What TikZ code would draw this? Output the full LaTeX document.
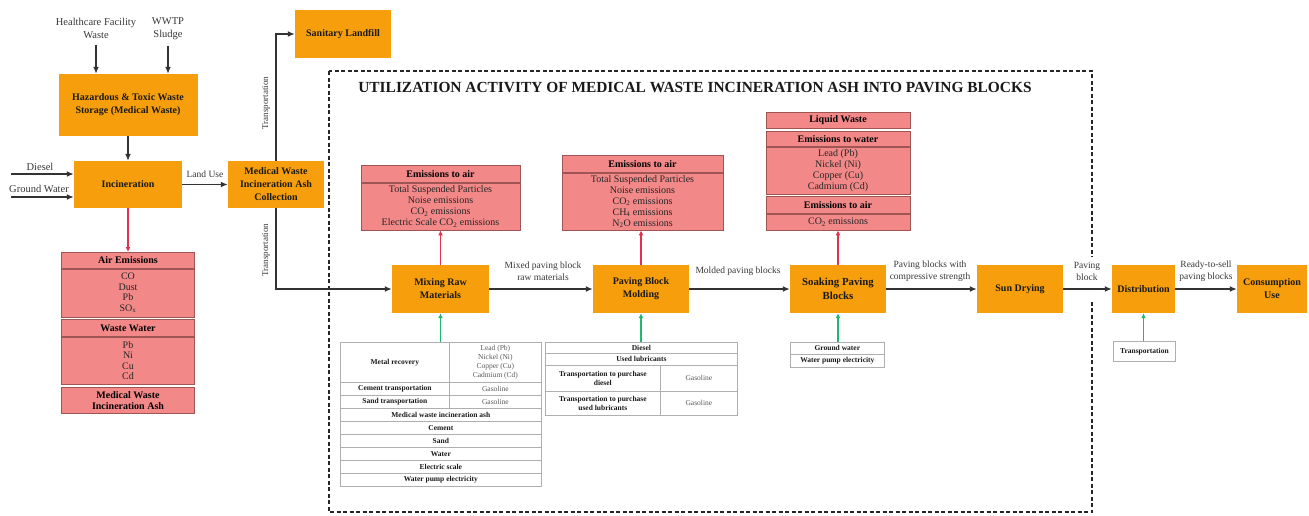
\documentclass[tikz,border=0pt]{standalone}
\usepackage{fontspec}
\setmainfont{Liberation Serif}
\usetikzlibrary{arrows.meta}
\definecolor{procor}{RGB}{246,158,12}
\definecolor{pinkc}{RGB}{242,136,136}
\definecolor{pinkb}{RGB}{160,85,85}
\definecolor{cellb}{RGB}{175,175,175}
\definecolor{greenarr}{RGB}{30,185,110}
\definecolor{redarr}{RGB}{225,50,75}
\definecolor{lblgray}{RGB}{55,55,55}
\newcommand\fsz[2]{\fontsize{#1}{#2}\selectfont}
\tikzset{
  proc/.style={fill=procor, inner sep=1pt, align=center, text=black!90, font=\bfseries\fsz{10}{13}},
  pk/.style={fill=pinkc, draw=pinkb, line width=0.7pt, inner sep=0pt, align=center, text=black!85, font=\fsz{10}{11}},
  pkh/.style={pk, font=\bfseries\fsz{10}{11}, text=black},
  cell/.style={draw=cellb, fill=white, line width=0.7pt, inner sep=0pt, align=center, text=black!90, font=\bfseries\fsz{7.5}{9}},
  cellr/.style={cell, font=\fsz{7.5}{9}, text=black!65},
  lbl/.style={font=\fsz{9.5}{12}, text=lblgray, align=center, inner sep=0pt},
  src/.style={font=\fsz{10.5}{13}, text=lblgray, align=center, inner sep=0pt},
  arr/.style={-{Latex[length=7pt,width=6pt]}, line width=1.6pt, draw=black!80},
  rarr/.style={-{Latex[length=5pt,width=5pt]}, line width=1.2pt, draw=redarr},
  garr/.style={-{Latex[length=5pt,width=5pt]}, line width=1.2pt, draw=greenarr},
  framebox/.style={draw=black!85, line width=1.1pt, dash pattern=on 4pt off 2.5pt}
}
\begin{document}
\begin{tikzpicture}[x=1pt,y=-1pt]
\useasboundingbox (0,0) rectangle (1309,515);

% ---------- left part ----------
\node[src] (hcw) at (96,28.5) {Healthcare Facility\\Waste};
\node[src] (wwtp) at (168,28.5) {WWTP\\Sludge};
\node[proc, minimum width=139, minimum height=62] (haz) at (128,105) {Hazardous \& Toxic Waste\\Storage (Medical Waste)};
\draw[arr] ([yshift=-6pt]hcw.south) -- (hcw.south |- haz.north);
\draw[arr] ([yshift=-6pt]wwtp.south) -- (wwtp.south |- haz.north);

\node[proc, minimum width=108, minimum height=47] (inc) at (128,184.5) {Incineration};
\draw[arr] (haz.south) -- (inc.north);

\node[src] (dsl) at (40,167) {Diesel};
\node[src] (gwl) at (39,189) {Ground Water};
\coordinate (dsin) at (11,174);
\coordinate (gwin) at (11,197);
\draw[arr] (dsin) -- (dsin -| inc.west);
\draw[arr] (gwin) -- (gwin -| inc.west);

\node[proc, minimum width=96, minimum height=47] (mwia) at (276,184.5) {Medical Waste\\Incineration Ash\\Collection};
\draw[arr] (inc.east) -- (mwia.west);
\node[lbl] (landuse) at (205,174) {Land Use};

\node[proc, minimum width=96, minimum height=48] (landfill) at (343,34) {Sanitary Landfill};
\draw[arr] (mwia.north) |- (landfill.west);
\node[lbl, rotate=90, font=\fsz{9}{10}] (tr1) at (266,103) {Transportation};

% air emission stack
\node[pkh, minimum width=133, minimum height=16, anchor=north] (aeh) at (128,252) {Air Emissions};
\node[pk, minimum width=133, minimum height=48, anchor=north, font=\fsz{10}{10.5}] (aeb) at (aeh.south) {CO\\Dust\\Pb\\SO\textsubscript{x}};
\draw[rarr] (inc.south) -- (aeh.north);
\node[pkh, minimum width=133, minimum height=17, anchor=north] (wwh) at (128,319) {Waste Water};
\node[pk, minimum width=133, minimum height=47, anchor=north, font=\fsz{10}{10.5}] (wwb) at (wwh.south) {Pb\\Ni\\Cu\\Cd};
\node[pkh, minimum width=133, minimum height=26, anchor=north, font=\bfseries\fsz{10}{10.5}] (ash) at (128,387) {Medical Waste\\Incineration Ash};

% ---------- dashed frame ----------
\draw[framebox] (329,71) rectangle (1092,512);
\node[font=\bfseries\fsz{15.4}{17}, text=black!90] (title) at (695,88) {UTILIZATION ACTIVITY OF MEDICAL WASTE INCINERATION ASH INTO PAVING BLOCKS};

% ---------- process row ----------
\node[proc, minimum width=97, minimum height=48] (mix) at (440.5,289) {Mixing Raw\\Materials};
\node[proc, minimum width=96, minimum height=48] (mold) at (641,289) {Paving Block\\Molding};
\node[proc, minimum width=96, minimum height=48, font=\bfseries\fsz{10.8}{14}] (soak) at (838,289) {Soaking Paving\\Blocks};
\node[proc, minimum width=86, minimum height=48] (sun) at (1020,289) {Sun Drying};
\node[proc, minimum width=63, minimum height=48] (dist) at (1143.5,289) {Distribution};
\node[proc, minimum width=70, minimum height=48] (cons) at (1272,289) {Consumption\\Use};

\draw[arr] (mwia.south) |- (mix.west);
\node[lbl, rotate=90, font=\fsz{9}{10}] (tr2) at (266,250) {Transportation};

\draw[arr] (mix.east) -- (mold.west);
\node[lbl] (l1) at (543,271) {Mixed paving block\\raw materials};
\draw[arr] (mold.east) -- (soak.west);
\node[lbl] (l2) at (738,271) {Molded paving blocks};
\draw[arr] (soak.east) -- (sun.west);
\node[lbl] (l3) at (930,271) {Paving blocks with\\compressive strength};
\fill[white] (1084,257) rectangle (1100,300);
\draw[arr] (sun.east) -- (dist.west);
\node[lbl] (l4) at (1087,271) {Paving\\block};
\draw[arr] (dist.east) -- (cons.west);
\node[lbl] (l5) at (1206,271) {Ready-to-sell\\paving blocks};

% ---------- emission boxes ----------
\node[pkh, minimum width=159, minimum height=17, anchor=north] (mixeh) at (440.5,165) {Emissions to air};
\node[pk, minimum width=159, minimum height=47, anchor=north] (mixeb) at (mixeh.south) {Total Suspended Particles\\Noise emissions\\CO\textsubscript{2} emissions\\Electric Scale CO\textsubscript{2} emissions};
\draw[rarr] (mix.north) -- (mix.north |- mixeb.south);

\node[pkh, minimum width=161, minimum height=17, anchor=north] (moldeh) at (642.5,155) {Emissions to air};
\node[pk, minimum width=161, minimum height=57, anchor=north] (moldeb) at (moldeh.south) {Total Suspended Particles\\Noise emissions\\CO\textsubscript{2} emissions\\CH\textsubscript{4} emissions\\N\textsubscript{2}O emissions};
\draw[rarr] (mold.north) -- (mold.north |- moldeb.south);

\node[pkh, minimum width=144, minimum height=16, anchor=north] (liq) at (838,112) {Liquid Waste};
\node[pkh, minimum width=144, minimum height=15, anchor=north] (soakwh) at (838,131) {Emissions to water};
\node[pk, minimum width=144, minimum height=47, anchor=north] (soakwb) at (soakwh.south) {Lead (Pb)\\Nickel (Ni)\\Copper (Cu)\\Cadmium (Cd)};
\node[pkh, minimum width=144, minimum height=17, anchor=north] (soakah) at (838,196) {Emissions to air};
\node[pk, minimum width=144, minimum height=16, anchor=north] (soakab) at (soakah.south) {CO\textsubscript{2} emissions};
\draw[rarr] (soak.north) -- (soak.north |- soakab.south);

% ---------- input tables ----------
% mixing
\node[cell, anchor=north west, minimum width=109, minimum height=40] (t1a) at (340,342) {Metal recovery};
\node[cellr, anchor=north west, minimum width=92, minimum height=40] (t1b) at (449,342) {Lead (Pb)\\Nickel (Ni)\\Copper (Cu)\\Cadmium (Cd)};
\node[cell, anchor=north west, minimum width=109, minimum height=13] (t2a) at (340,382) {Cement transportation};
\node[cellr, anchor=north west, minimum width=92, minimum height=13] (t2b) at (449,382) {Gasoline};
\node[cell, anchor=north west, minimum width=109, minimum height=13] (t3a) at (340,395) {Sand transportation};
\node[cellr, anchor=north west, minimum width=92, minimum height=13] (t3b) at (449,395) {Gasoline};
\node[cell, anchor=north west, minimum width=201, minimum height=13] (t4) at (340,408) {Medical waste incineration ash};
\node[cell, anchor=north west, minimum width=201, minimum height=13] (t5) at (340,421) {Cement};
\node[cell, anchor=north west, minimum width=201, minimum height=13] (t6) at (340,434) {Sand};
\node[cell, anchor=north west, minimum width=201, minimum height=13] (t7) at (340,447) {Water};
\node[cell, anchor=north west, minimum width=201, minimum height=13] (t8) at (340,460) {Electric scale};
\node[cell, anchor=north west, minimum width=201, minimum height=13] (t9) at (340,473) {Water pump electricity};
\draw[garr] (mix.south |- t1a.north) -- (mix.south);

% molding
\node[cell, anchor=north west, minimum width=192, minimum height=11] (m1) at (545,342) {Diesel};
\node[cell, anchor=north west, minimum width=192, minimum height=12] (m2) at (545,353) {Used lubricants};
\node[cell, anchor=north west, minimum width=115, minimum height=26] (m3a) at (545,365) {Transportation to purchase\\diesel};
\node[cellr, anchor=north west, minimum width=77, minimum height=26] (m3b) at (660,365) {Gasoline};
\node[cell, anchor=north west, minimum width=115, minimum height=24] (m4a) at (545,391) {Transportation to purchase\\used lubricants};
\node[cellr, anchor=north west, minimum width=77, minimum height=24] (m4b) at (660,391) {Gasoline};
\draw[garr] (mold.south |- m1.north) -- (mold.south);

% soaking
\node[cell, anchor=north west, minimum width=94, minimum height=12] (s1) at (790,342) {Ground water};
\node[cell, anchor=north west, minimum width=94, minimum height=13] (s2) at (790,354) {Water pump electricity};
\draw[garr] (soak.south |- s1.north) -- (soak.south);

% distribution
\node[cell, anchor=north west, minimum width=62, minimum height=20] (trb) at (1113,341) {Transportation};
\draw[garr] (dist.south |- trb.north) -- (dist.south);
\end{tikzpicture}
\end{document}
